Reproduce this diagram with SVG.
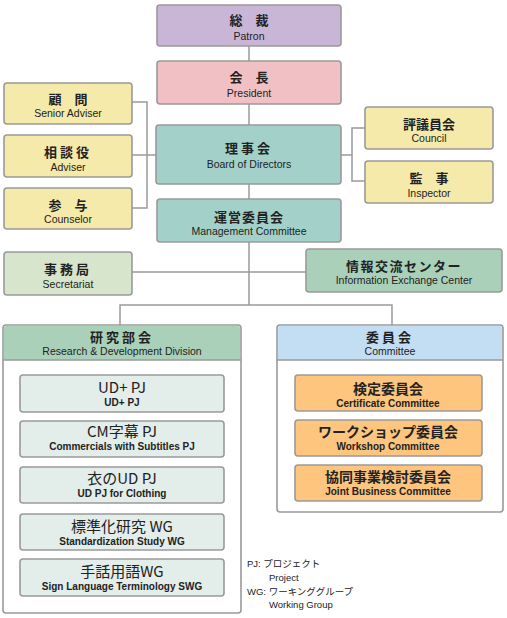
<svg xmlns="http://www.w3.org/2000/svg" width="507" height="618" viewBox="0 0 507 618">
<style>
.box{stroke:#9a9a9a;stroke-width:1.6}
.jp{font-family:"Noto Sans CJK JP","Noto Sans",sans-serif;font-weight:bold;font-size:13px;fill:#222;text-anchor:middle}
.en{font-family:"Liberation Sans",Arial,sans-serif;font-size:10.5px;fill:#222;text-anchor:middle}
.sjp{font-family:"Noto Sans CJK JP","Noto Sans",sans-serif;font-size:15px;fill:#222;text-anchor:middle}
.sen{font-family:"Liberation Sans",Arial,sans-serif;font-weight:bold;font-size:10px;fill:#222;text-anchor:middle}
.ojp{font-family:"Noto Sans CJK JP","Noto Sans",sans-serif;font-weight:bold;font-size:14px;fill:#222;text-anchor:middle}
.lg{font-family:"Liberation Sans","Noto Sans CJK JP",sans-serif;font-size:9.5px;fill:#222}
.ln{stroke:#9a9a9a;stroke-width:1.5;fill:none}
</style>
<g id="connectors">
<path class="ln" d="M249 46V61M249 104V125M249 184V199M249 242V305M120 325V305H392V325"/>
<path class="ln" d="M132 102H147V208H132M132 155H157"/>
<path class="ln" d="M341 155H352M365 128H352V181H365"/>
<path class="ln" d="M132 272H306"/>
</g>
<g id="patron"><rect class="box" x="157" y="5" width="184" height="41" rx="3" fill="#c9b6d7"/><text class="jp" x="249" y="25" word-spacing="10">総 裁</text><text class="en" x="249" y="40">Patron</text></g>
<g id="president"><rect class="box" x="157" y="61" width="184" height="43" rx="3" fill="#f1c0c4"/><text class="jp" x="249" y="82" word-spacing="10">会 長</text><text class="en" x="249" y="97">President</text></g>
<g id="board"><rect class="box" x="156" y="125" width="185" height="59" rx="3" fill="#a3d1c9"/><text class="jp" x="249" y="153" letter-spacing="3">理事会</text><text class="en" x="249" y="168">Board of Directors</text></g>
<g id="management"><rect class="box" x="157" y="199" width="184" height="43" rx="3" fill="#a3d1c9"/><text class="jp" x="249" y="222" letter-spacing="1">運営委員会</text><text class="en" x="249" y="235">Management Committee</text></g>
<g id="senior-adviser"><rect class="box" x="4" y="83" width="128" height="41" rx="3" fill="#f5eaa9"/><text class="jp" x="68" y="104" word-spacing="10">顧 問</text><text class="en" x="68" y="117">Senior Adviser</text></g>
<g id="adviser"><rect class="box" x="4" y="135" width="128" height="42" rx="3" fill="#f5eaa9"/><text class="jp" x="68" y="157" letter-spacing="3">相談役</text><text class="en" x="68" y="171">Adviser</text></g>
<g id="counselor"><rect class="box" x="4" y="188" width="128" height="41" rx="3" fill="#f5eaa9"/><text class="jp" x="68" y="210" word-spacing="10">参 与</text><text class="en" x="68" y="223">Counselor</text></g>
<g id="council"><rect class="box" x="365" y="107" width="128" height="42" rx="3" fill="#f5eaa9"/><text class="jp" x="429" y="129">評議員会</text><text class="en" x="429" y="142">Council</text></g>
<g id="inspector"><rect class="box" x="365" y="161" width="128" height="42" rx="3" fill="#f5eaa9"/><text class="jp" x="429" y="183" word-spacing="10">監 事</text><text class="en" x="429" y="197">Inspector</text></g>
<g id="secretariat"><rect class="box" x="4" y="252" width="128" height="43" rx="3" fill="#d7e5cd"/><text class="jp" x="68" y="274" letter-spacing="3">事務局</text><text class="en" x="68" y="288">Secretariat</text></g>
<g id="info-center"><rect class="box" x="306" y="249" width="196" height="43" rx="3" fill="#aad0b9"/><text class="jp" x="404" y="271" letter-spacing="1.5">情報交流センター</text><text class="en" x="404" y="284">Information Exchange Center</text></g>
<g id="research"><rect class="box" x="3" y="325" width="238" height="288" rx="3" fill="#fff"/><path d="M4 360V328Q4 326 6 326H238Q240 326 240 328V360Z" fill="#aad0b9"/><path class="ln" d="M3 360H241"/><text class="jp" x="122" y="342" letter-spacing="3">研究部会</text><text class="en" x="122" y="355">Research &amp; Development Division</text></g>
<g id="committee"><rect class="box" x="277" y="325" width="226" height="187" rx="3" fill="#fff"/><path d="M278 360V328Q278 326 280 326H500Q502 326 502 328V360Z" fill="#c3ddf3"/><path class="ln" d="M277 360H503"/><text class="jp" x="390" y="342" letter-spacing="3">委員会</text><text class="en" x="390" y="355">Committee</text></g>
<g id="udplus"><rect class="box" x="20" y="375" width="204" height="37" rx="3" fill="#e3ede9"/><text class="sjp" x="122" y="393">UD+ PJ</text><text class="sen" x="122" y="406">UD+ PJ</text></g>
<g id="cm"><rect class="box" x="20" y="421" width="204" height="36" rx="3" fill="#e3ede9"/><text class="sjp" x="122" y="437">CM字幕 PJ</text><text class="sen" x="122" y="450">Commercials with Subtitles PJ</text></g>
<g id="clothing"><rect class="box" x="20" y="467" width="204" height="36" rx="3" fill="#e3ede9"/><text class="sjp" x="122" y="484">衣のUD PJ</text><text class="sen" x="122" y="497">UD PJ for Clothing</text></g>
<g id="standard"><rect class="box" x="20" y="514" width="204" height="36" rx="3" fill="#e3ede9"/><text class="sjp" x="122" y="532">標準化研究 WG</text><text class="sen" x="122" y="545">Standardization Study WG</text></g>
<g id="sign"><rect class="box" x="20" y="559" width="204" height="37" rx="3" fill="#e3ede9"/><text class="sjp" x="122" y="577">手話用語WG</text><text class="sen" x="122" y="590">Sign Language Terminology SWG</text></g>
<g id="certificate"><rect class="box" x="295" y="375" width="187" height="36" rx="3" fill="#fdc57d"/><text class="ojp" x="388" y="394">検定委員会</text><text class="sen" x="388" y="407">Certificate Committee</text></g>
<g id="workshop"><rect class="box" x="295" y="420" width="187" height="36" rx="3" fill="#fdc57d"/><text class="ojp" x="388" y="437">ワークショップ委員会</text><text class="sen" x="388" y="450">Workshop Committee</text></g>
<g id="joint"><rect class="box" x="295" y="465" width="187" height="36" rx="3" fill="#fdc57d"/><text class="ojp" x="388" y="482">協同事業検討委員会</text><text class="sen" x="388" y="495">Joint Business Committee</text></g>
<g id="legend"><text class="lg" x="247" y="567">PJ: プロジェクト</text><text class="lg" x="269" y="581">Project</text><text class="lg" x="247" y="595">WG: ワーキンググループ</text><text class="lg" x="269" y="608">Working Group</text></g>
</svg>
